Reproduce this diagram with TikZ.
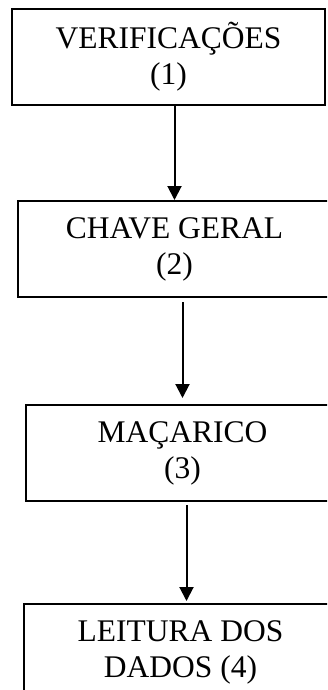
\documentclass[tikz,border=0pt]{standalone}
\usepackage{fontspec}
\setmainfont{Liberation Serif}
\usetikzlibrary{arrows.meta,positioning}

\begin{document}
\begin{tikzpicture}[x=1pt,y=-1pt,>={Triangle[length=14pt,width=14pt]},line width=2pt,
  etapa/.style={draw,minimum width=313pt,minimum height=96pt,inner sep=0pt,align=center,
    font=\fontsize{31.5}{36}\selectfont}]
  \useasboundingbox (0,0) rectangle (327,690);
  \clip (0,0) rectangle (327,690);

  \node[etapa] (verif) at (168.5,57) {VERIFICAÇÕES\\(1)};
  \node[etapa] (chave) [below=94pt of verif,xshift=6pt] {CHAVE GERAL\\(2)};
  \node[etapa] (macarico) [below=106pt of chave,xshift=8pt] {MAÇARICO\\(3)};
  \node[etapa] (leitura) [below=101pt of macarico,xshift=-2pt] {LEITURA DOS\\DADOS (4)};

  \draw[->] (verif.south -| chave.north) -- (chave.north);
  \draw[->,shorten <=4pt,shorten >=6pt] (chave.south -| macarico.north) -- (macarico.north);
  \draw[->,shorten <=3pt,shorten >=2pt] ([xshift=4pt]macarico.south) -- ([xshift=4pt]macarico.south |- leitura.north);
\end{tikzpicture}
\end{document}
